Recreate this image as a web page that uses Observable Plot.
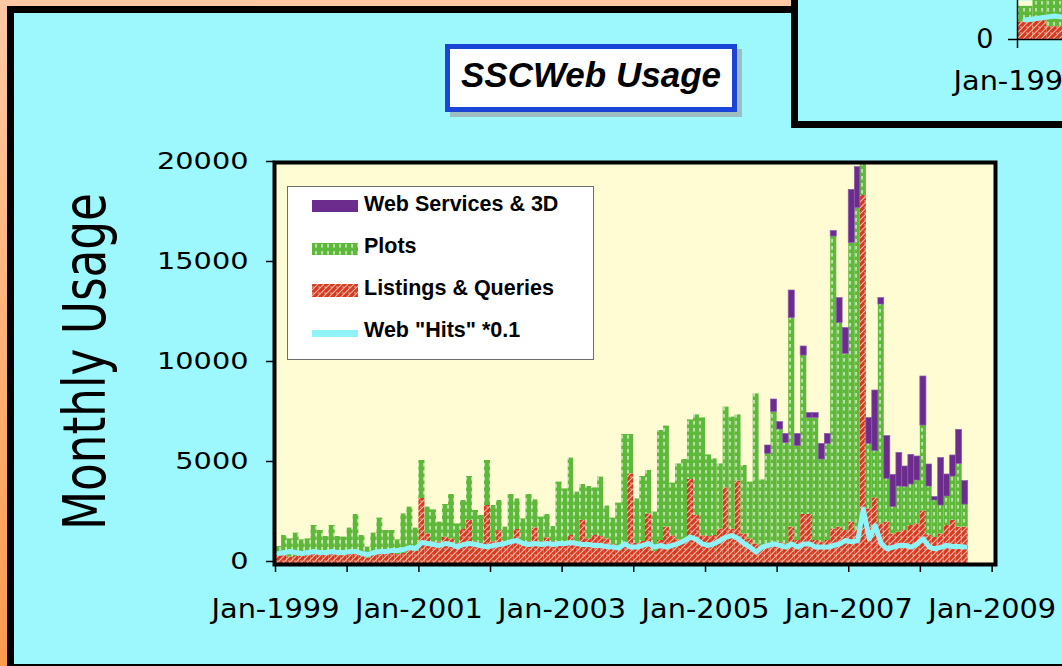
<!DOCTYPE html>
<html>
<head>
<meta charset="utf-8">
<script src="https://cdn.jsdelivr.net/npm/d3@7"></script>
<script src="https://cdn.jsdelivr.net/npm/@observablehq/plot@0.6"></script>
<style>
html,body{margin:0;padding:0;background:#fff;}
#page{position:relative;width:1062px;height:666px;overflow:hidden;background:linear-gradient(180deg,#FFC9A3 0%,#FFB47C 45%,#FF9A4C 100%);}
#panel{position:absolute;left:7px;top:6px;width:1200px;height:665px;box-sizing:border-box;border:7px solid #000;background:#9CF8FC;}
#inset{position:absolute;left:791px;top:-20px;width:300px;height:148px;box-sizing:border-box;border:7px solid #000;background:#9CF8FC;}
#mini{position:absolute;left:900px;top:0;}
#title{position:absolute;left:445px;top:44px;width:292px;height:68px;box-sizing:border-box;border:5px solid #1B45D6;background:#fff;box-shadow:5px 5px 0 #9DBDC1;text-align:center;font:italic bold 35px "Liberation Sans",Arial,sans-serif;line-height:52px;color:#000;}
#chart{position:absolute;left:0;top:0;}
#deco{position:absolute;left:0;top:0;}
#legend{position:absolute;left:287px;top:186px;width:307px;height:174px;box-sizing:border-box;border:1.5px solid #6E6E6E;background:#fff;}
.lg-sw{position:absolute;left:312px;display:block;}
.lg-tx{position:absolute;left:364px;font:bold 21.5px "Liberation Sans",Arial,sans-serif;line-height:24px;color:#000;white-space:nowrap;}
</style>
</head>
<body>
<div id="page">
  <svg width="0" height="0" style="position:absolute">
    <defs>
      <pattern id="redHatch" patternUnits="userSpaceOnUse" width="6" height="6">
        <rect width="6" height="6" fill="#D8391E"></rect>
        <path d="M0,6 L6,0 M-1,1 L1,-1 M5,7 L7,5" stroke="#F5C2B4" stroke-width="1.1"></path>
        <path d="M0,3 L2,3" stroke="#F5C2B4" stroke-width="0.8"></path>
      </pattern>
      <pattern id="greenDots" patternUnits="userSpaceOnUse" width="6" height="7" x="1">
        <rect width="6" height="7" fill="#5EB83A"></rect>
        <rect x="2.4" y="1" width="1.3" height="3.6" fill="#E6F6DC"></rect>
      </pattern>
    </defs>
  </svg>
  <div id="panel"></div>
  <div id="inset"></div>
  <div id="mini"></div>
  <div id="title">SSCWeb Usage</div>
  <svg id="deco" width="1062" height="666">
    <text transform="translate(105,361.5) rotate(-90)" text-anchor="middle" font-family="DejaVu Sans" font-size="58" textLength="337" lengthAdjust="spacingAndGlyphs" fill="#000">Monthly Usage</text>
  </svg>
  <div id="chart"></div>
  <div id="legend"></div>
  <div id="legendItems"></div>
</div>
<script>
// ---- data (Jan 1999 .. Aug 2008, one value per month) ----
const firstYear = 1999;
const listings = [
450,500,330,350,400,400,650,450,400,450,450,450,
450,650,400,280,450,550,650,500,450,500,650,600,
3250,1480,1070,1070,1320,1230,1000,1700,2150,1080,1000,2900,
1080,1650,1000,1000,1700,1000,1080,1780,1080,1280,1080,1080,
1080,1400,1080,2150,1230,1400,1350,1230,950,880,950,4480,
1000,1100,2480,600,1150,1820,1380,1180,1150,4200,2400,1380,
1350,1400,1720,3780,1720,4120,1480,1230,980,820,980,980,
1050,980,1820,1150,2450,2450,1150,1080,1150,1730,1820,1650,
2070,1650,18400,2730,3280,1980,2070,1480,1570,1650,1900,1980,
2620,1430,1300,1480,1900,2150,1820,1820];
const plots = [
400,900,900,1170,780,830,1250,1200,950,1450,900,870,
1320,1800,1000,540,1070,1720,1000,1150,730,1980,2170,1170,
1900,1340,1610,1000,1630,2220,980,1450,2200,1570,1400,2250,
1820,1500,820,2450,1530,1230,2370,1400,1240,1170,770,2990,
2650,3870,2490,1800,2620,2380,2970,1640,1320,2140,5500,1970,
2230,3250,2170,1970,5500,5050,2640,3800,4050,2980,5030,5900,
4080,3830,3260,4040,5600,3310,3420,2840,7500,3360,4500,6590,
5650,5040,10450,4720,7950,4830,6130,4120,4830,14620,10200,8830,
13950,16120,1580,3250,2340,10970,2160,1340,2280,2180,2050,2170,
4280,2420,1850,1420,1450,2200,3160,1130];
const webServices = [
0,0,0,0,0,0,0,0,0,0,0,0,
0,0,0,0,0,0,0,0,0,0,0,0,
0,0,0,0,0,0,0,0,0,0,0,0,
0,0,0,0,0,0,0,0,0,0,0,0,
0,0,0,0,0,0,0,0,0,0,0,0,
0,0,0,0,0,0,0,0,0,0,0,0,
0,0,0,0,0,0,0,0,0,0,420,630,
370,460,1380,610,450,240,240,780,500,270,1250,1290,
2660,2050,0,1290,3030,320,2140,1610,1680,1020,1480,1200,
2450,1100,170,2380,1100,1050,1700,1170];
const webHits = [ // Web "Hits" * 0.1
500,550,600,550,500,550,600,550,550,600,550,550,
600,600,500,450,550,600,600,650,650,700,800,750,
1050,1000,950,900,1000,950,830,950,1000,950,880,830,
900,950,1000,1100,1150,1000,950,1000,950,1000,950,1000,
1000,1050,1000,950,950,900,900,850,830,770,980,820,
820,900,1000,820,900,820,900,1000,1150,1320,1200,980,
900,1000,1150,1320,1400,1250,1000,820,570,820,900,980,
900,820,980,820,980,980,820,820,820,900,980,1150,
1080,1150,2720,1230,1900,980,730,820,900,900,820,980,
1230,820,730,820,900,850,850,820];
const seriesNames = ["Web Services & 3D", "Plots", "Listings & Queries", "Web \"Hits\" *0.1"];
const yTicks = [0, 5000, 10000, 15000, 20000];
const tickYears = [1999,2000,2001,2002,2003,2004,2005,2006,2007,2008,2009];
const labelYears = [1999,2001,2003,2005,2007,2009];

const RED = "url(#redHatch)", GREEN = "url(#greenDots)", PURPLE = "#6B2C8E", CYAN = "#8FF3F8";

const rows = listings.map((v, i) => {
  const date = new Date(Date.UTC(firstYear, i, 1));
  return {
    date, end: new Date(Date.UTC(firstYear, i + 1, 1)), mid: new Date(Date.UTC(firstYear, i, 16)),
    r: v, g: v + plots[i], p: v + plots[i] + webServices[i], hits: webHits[i]
  };
});
const tickDates = tickYears.map(y => new Date(Date.UTC(y, 0, 1)));
const fmt = d => labelYears.includes(d.getUTCFullYear()) ? "Jan-" + d.getUTCFullYear() : "";

function stretch(svg) {
  svg.querySelectorAll('g[aria-label="y-axis tick label"] text').forEach(t => {
    const n = t.textContent.length;
    if (n) { t.setAttribute("textLength", n * 18.3); t.setAttribute("lengthAdjust", "spacingAndGlyphs"); }
  });
  svg.querySelectorAll('g[aria-label="x-axis tick label"] text').forEach(t => {
    if (t.textContent) { t.setAttribute("textLength", 128); t.setAttribute("lengthAdjust", "spacingAndGlyphs"); }
  });
}

const chart = Plot.plot({
  width: 1062, height: 666,
  marginLeft: 275, marginRight: 68, marginTop: 163, marginBottom: 103,
  x: {type: "utc", domain: [new Date(Date.UTC(1999, 0, 1)), new Date(Date.UTC(2009, 0, 13))]},
  y: {domain: [0, 20000]},
  style: {background: "transparent", fontFamily: "DejaVu Sans", fontSize: "20px", color: "#000", overflow: "visible"},
  marks: [
    Plot.frame({fill: "#FFFBD2"}),
    Plot.rect(rows, {x1: "date", x2: "end", y1: 0, y2: "r", fill: RED}),
    Plot.rect(rows, {x1: "date", x2: "end", y1: "r", y2: "g", fill: GREEN}),
    Plot.rect(rows.filter(d => d.p > d.g), {x1: "date", x2: "end", y1: "g", y2: "p", fill: PURPLE, stroke: "#8E5BB0", strokeWidth: 0.7}),
    Plot.line(rows, {x: "mid", y: "hits", stroke: CYAN, strokeWidth: 5, strokeLinejoin: "round", strokeLinecap: "round"}),
    Plot.frame({stroke: "#000", strokeWidth: 4, inset: -1}),
    Plot.axisY({ticks: yTicks, tickSize: 9, tickPadding: 18, fontSize: 23, dy: -2, label: null, strokeWidth: 1.5, tickFormat: d => String(d)}),
    Plot.axisX({ticks: tickDates, tickSize: 9, tickPadding: 26, fontSize: 27, label: null, strokeWidth: 1.5, tickFormat: fmt})
  ]
});
stretch(chart);
document.getElementById("chart").append(chart);

// small fragment of a second copy of the chart (top-right corner)
const mini = Plot.plot({
  width: 162, height: 110,
  marginLeft: 117, marginRight: 0, marginTop: 0, marginBottom: 71,
  x: {type: "utc", domain: [new Date(Date.UTC(1999, 0, 1)), new Date(Date.UTC(1999, 3, 1))]},
  y: {domain: [0, 1000]},
  style: {background: "transparent", fontFamily: "DejaVu Sans", fontSize: "27px", color: "#000", overflow: "visible"},
  marks: [
    Plot.frame({fill: "#FFFBD2"}),
    Plot.rect(rows.slice(0, 4), {x1: "date", x2: "end", y1: 0, y2: "r", fill: RED, clip: true}),
    Plot.rect(rows.slice(0, 4), {x1: "date", x2: "end", y1: "r", y2: "g", fill: GREEN, clip: true}),
    Plot.line(rows.slice(0, 4), {x: "mid", y: "hits", stroke: CYAN, strokeWidth: 5, clip: true}),
    Plot.ruleY([0], {stroke: "#000", strokeWidth: 1.5}),
    Plot.ruleX([new Date(Date.UTC(1999, 0, 1))], {stroke: "#000", strokeWidth: 1.5}),
    Plot.axisY({ticks: [0], tickSize: 9, tickPadding: 15, fontSize: 27, label: null, strokeWidth: 1.5}),
    Plot.axisX({ticks: [tickDates[0]], tickSize: 9, tickPadding: 22, fontSize: 27, label: null, strokeWidth: 1.5, tickFormat: fmt})
  ]
});
mini.querySelectorAll('g[aria-label="x-axis tick label"] text').forEach(t => { t.setAttribute("textLength", 128); t.setAttribute("lengthAdjust", "spacingAndGlyphs"); });
document.getElementById("mini").append(mini);

// legend
const legendItems = [
  {name: seriesNames[0], fill: PURPLE, sy: 200, sh: 12, ty: 192},
  {name: seriesNames[1], fill: GREEN, sy: 243, sh: 12, ty: 234},
  {name: seriesNames[2], fill: RED, sy: 284, sh: 13, ty: 276},
  {name: seriesNames[3], fill: CYAN, sy: 330, sh: 7, ty: 318}
];
const li = document.getElementById("legendItems");
for (const it of legendItems) {
  const sw = d3.create("svg").attr("class", "lg-sw").attr("width", 46).attr("height", it.sh)
    .style("top", it.sy + "px");
  sw.append("rect").attr("width", 46).attr("height", it.sh).attr("fill", it.fill);
  li.append(sw.node());
  const tx = document.createElement("div");
  tx.className = "lg-tx";
  tx.style.top = it.ty + "px";
  tx.textContent = it.name;
  li.append(tx);
}
</script>
</body>
</html>
